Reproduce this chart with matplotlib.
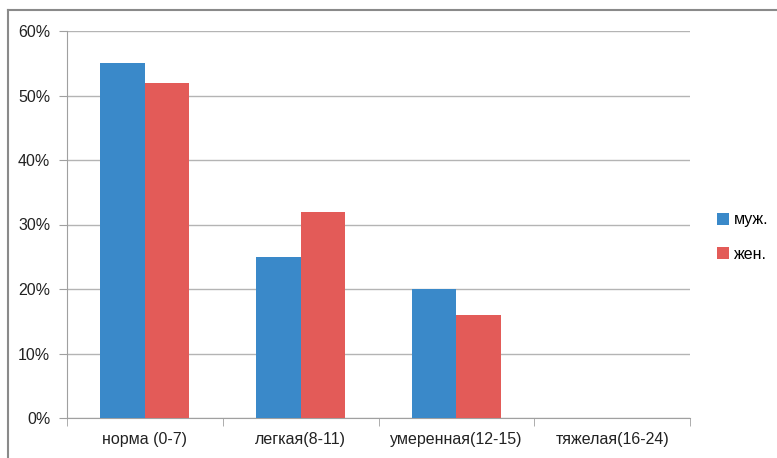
import matplotlib
matplotlib.use("Agg")
import matplotlib.pyplot as plt
import numpy as np
from matplotlib.lines import Line2D
from matplotlib.ticker import FixedLocator, NullFormatter

categories = ["норма (0-7)", "легкая(8-11)", "умеренная(12-15)", "тяжелая(16-24)"]
series_names = ["муж.", "жен."]
male = [55, 25, 20, 0]
female = [52, 32, 16, 0]
yticks = [0, 10, 20, 30, 40, 50, 60]
ytick_labels = ["0%", "10%", "20%", "30%", "40%", "50%", "60%"]

colors = ["#3A89C9", "#E35B58"]
plt.rcParams['font.family'] = ['Liberation Sans Narrow', 'Liberation Sans', 'DejaVu Sans']

fig = plt.figure(figsize=(7.77, 4.58), dpi=100)
ax = fig.add_axes([67/777, 40/458, 623/777, 387/458])

x = np.arange(len(categories))
w = 0.285
ax.bar(x - w/2, male, width=w, color=colors[0], label=series_names[0], zorder=3)
ax.bar(x + w/2, female, width=w, color=colors[1], label=series_names[1], zorder=3)

ax.set_xlim(-0.5, len(categories) - 0.5)
ax.set_ylim(0, 60)
ax.set_yticks(yticks)
ax.set_yticklabels(ytick_labels, fontsize=11.5, color="#222222")
ax.set_xticks(x)
ax.set_xticklabels(categories, fontsize=11.5, color="#222222")
ax.tick_params(axis='x', length=0, pad=10)
ax.xaxis.set_minor_locator(FixedLocator(np.arange(-0.5, len(categories), 1.0)))
ax.xaxis.set_minor_formatter(NullFormatter())
ax.tick_params(axis='x', which='minor', length=6, color="#A0A0A0")
ax.tick_params(axis='y', length=6, color="#A0A0A0", pad=6)

ax.grid(axis='y', color="#B4B4B4", linewidth=1, zorder=0)
for s in ["top", "right"]:
    ax.spines[s].set_visible(False)
ax.spines["left"].set_color("#A0A0A0")
ax.spines["bottom"].set_color("#A0A0A0")

fig.legend(loc="center left", bbox_to_anchor=(703/777, 1 - 237/458), frameon=False,
           fontsize=11.5, handlelength=0.75, handleheight=0.75, labelspacing=1.2,
           handletextpad=0.3)

# outer chart border (left and top)
fig.add_artist(Line2D([8/777, 8/777], [0, 1 - 10/458], transform=fig.transFigure, color="#8A8A8A", linewidth=1.5))
fig.add_artist(Line2D([8/777, 1], [1 - 10/458, 1 - 10/458], transform=fig.transFigure, color="#8A8A8A", linewidth=1.5))

fig.savefig("out.png", dpi=100)
